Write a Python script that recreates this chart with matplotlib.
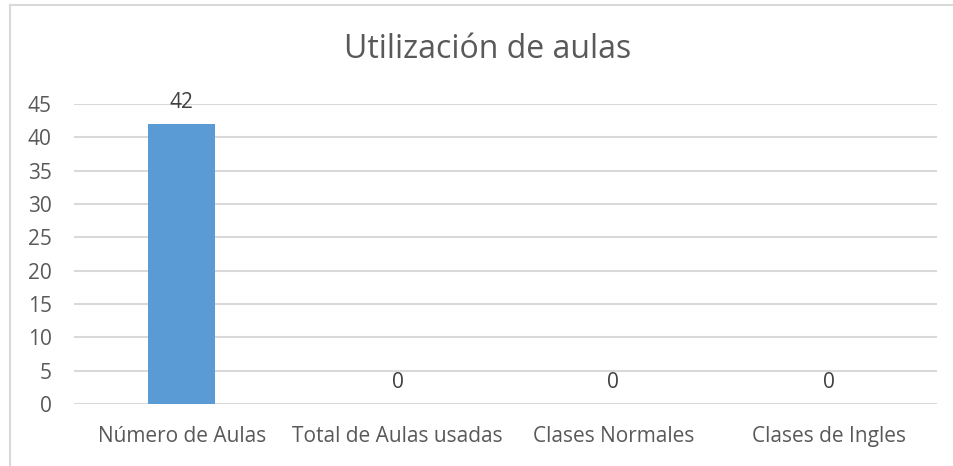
import matplotlib.pyplot as plt
import numpy as np

plt.rcParams["font.family"] = ["Open Sans", "DejaVu Sans"]

categorias = ["Número de Aulas", "Total de Aulas usadas", "Clases Normales", "Clases de Ingles"]
valores = [42, 0, 0, 0]
ticks_y = [0, 5, 10, 15, 20, 25, 30, 35, 40, 45]

gris = "#595959"
fig = plt.figure(figsize=(9.54, 4.66), dpi=100)
W, H = 954, 466

# marco del grafico (recortado a la derecha y abajo)
fig.add_artist(plt.Line2D([10.5 / W, 10.5 / W], [0, 1 - 5 / H], color="#D9D9D9", lw=1.5))
fig.add_artist(plt.Line2D([10.5 / W, 1], [1 - 5 / H, 1 - 5 / H], color="#D9D9D9", lw=1.5))

ax = fig.add_axes([74 / W, 1 - 404 / H, (937 - 74) / W, (404 - 104) / H])
x = np.arange(len(categorias))
ax.bar(x, valores, width=0.31, color="#5B9BD5", zorder=3)
ax.set_xlim(-0.5, len(categorias) - 0.5)
ax.set_ylim(0, 45)
ax.set_yticks(ticks_y)
ax.yaxis.grid(True, color="#D9D9D9", lw=1.5, zorder=0)
for s in ax.spines.values():
    s.set_visible(False)
ax.tick_params(axis="both", length=0, labelsize=15, labelcolor=gris)
ax.tick_params(axis="y", pad=16)
ax.tick_params(axis="x", pad=16)
ax.set_xticks(x)
ax.set_xticklabels(categorias)

for xi, v in zip(x, valores):
    ax.annotate(str(v), (xi, v), xytext=(0, 8), textcoords="offset points",
                ha="center", va="bottom", fontsize=15, color="#404040")

fig.text(488 / W, 1 - 50 / H, "Utilización de aulas", ha="center", va="center",
         fontsize=23, color=gris)

fig.savefig("out.png", dpi=100, facecolor="white")
